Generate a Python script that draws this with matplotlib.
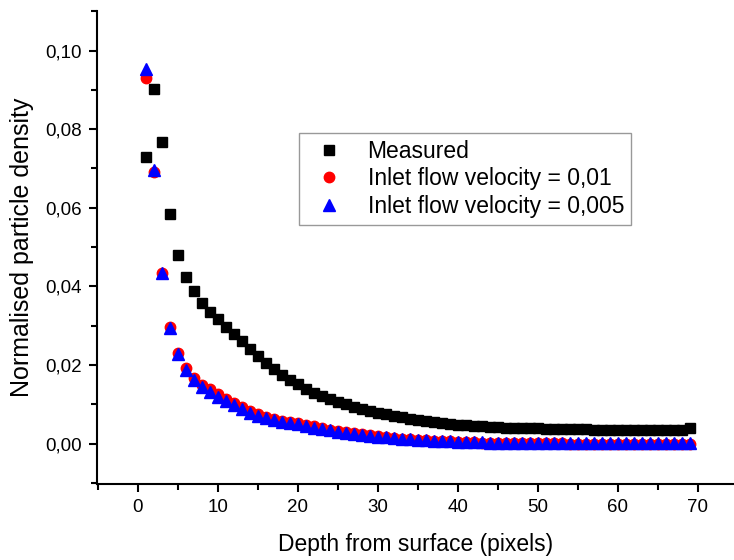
import matplotlib
matplotlib.use("Agg")
import matplotlib.pyplot as plt
import numpy as np
from matplotlib.ticker import MultipleLocator, FuncFormatter

plt.rcParams['font.family'] = ['Liberation Sans', 'DejaVu Sans']

# depth (pixels)
depth = np.arange(1, 70)

# measured profile
measured = [0.0730, 0.0903, 0.0767, 0.0584, 0.0479, 0.0424, 0.0388, 0.0359, 0.0336, 0.0316,
            0.0298, 0.0279, 0.0260, 0.0240, 0.0222, 0.0205, 0.0189, 0.0175, 0.0163, 0.0151,
            0.0140, 0.0130, 0.0121, 0.0113, 0.0106, 0.0100, 0.0094, 0.0089, 0.0084, 0.0079,
            0.0075, 0.0071, 0.0067, 0.0063, 0.0060, 0.0057, 0.0055, 0.0052, 0.0050, 0.0048,
            0.0047, 0.0045, 0.0044, 0.0043, 0.0042, 0.0041, 0.0040, 0.0040, 0.0039, 0.0039,
            0.0038, 0.0038, 0.0037, 0.0037, 0.0037, 0.0037, 0.0036, 0.0036, 0.0036, 0.0036,
            0.0036, 0.0036, 0.0036, 0.0036, 0.0036, 0.0036, 0.0036, 0.0036, 0.0039]

# simulation, inlet flow velocity = 0,01
sim_01 = [0.0931, 0.0690, 0.0435, 0.0297, 0.0231, 0.0192, 0.0167, 0.0150, 0.0138, 0.0126,
          0.0115, 0.0104, 0.0094, 0.0084, 0.0076, 0.0069, 0.0064, 0.0059, 0.0055, 0.0052,
          0.0048, 0.0044, 0.0040, 0.0036, 0.0033, 0.0030, 0.0027, 0.0024, 0.0021, 0.0019,
          0.0017, 0.0015, 0.0013, 0.0011, 0.0010, 0.0009, 0.0008, 0.0007, 0.0006, 0.0005,
          0.0004, 0.0004, 0.0003, 0.0003, 0.0002, 0.0002, 0.0001, 0.0001, 0.0001, 0.0001,
          0.0001, 0.0001, 0.0001, 0.0000, 0.0000, 0.0000, 0.0000, 0.0000, 0.0000, 0.0000,
          0.0000, 0.0000, 0.0000, 0.0000, 0.0000, 0.0000, 0.0000, 0.0000, 0.0000]

# simulation, inlet flow velocity = 0,005
sim_005 = [0.0954, 0.0697, 0.0434, 0.0294, 0.0228, 0.0188, 0.0162, 0.0145, 0.0132, 0.0120,
           0.0109, 0.0098, 0.0088, 0.0079, 0.0071, 0.0065, 0.0060, 0.0056, 0.0052, 0.0049,
           0.0045, 0.0041, 0.0037, 0.0034, 0.0031, 0.0028, 0.0025, 0.0022, 0.0020, 0.0018,
           0.0016, 0.0014, 0.0012, 0.0011, 0.0010, 0.0009, 0.0008, 0.0007, 0.0006, 0.0005,
           0.0005, 0.0004, 0.0004, 0.0003, 0.0003, 0.0003, 0.0002, 0.0002, 0.0002, 0.0002,
           0.0002, 0.0002, 0.0002, 0.0002, 0.0002, 0.0002, 0.0002, 0.0002, 0.0002, 0.0002,
           0.0002, 0.0002, 0.0002, 0.0002, 0.0002, 0.0002, 0.0002, 0.0002, 0.0002]

fig = plt.figure(figsize=(7.34, 5.60), dpi=100)
ax = fig.add_axes([0.132, 0.136, 0.868, 0.844])

ax.plot(depth, measured, 's', color='black', ms=7.3, label='Measured')
ax.plot(depth, sim_01, 'o', color='red', ms=7.5, label='Inlet flow velocity = 0,01')
ax.plot(depth, sim_005, '^', color='blue', ms=8, label='Inlet flow velocity = 0,005')

ax.set_xlim(-5.1, 74.5)
ax.set_ylim(-0.0102, 0.11)

ax.spines['top'].set_visible(False)
ax.spines['right'].set_visible(False)
for s in ['left', 'bottom']:
    ax.spines[s].set_linewidth(1.5)

ax.xaxis.set_major_locator(MultipleLocator(10))
ax.xaxis.set_minor_locator(MultipleLocator(5))
ax.yaxis.set_major_locator(MultipleLocator(0.02))
ax.yaxis.set_minor_locator(MultipleLocator(0.01))
ax.yaxis.set_major_formatter(FuncFormatter(lambda v, p: f"{v:.2f}".replace('.', ',')))
ax.tick_params(which='major', direction='out', length=6, width=1.5, labelsize=13.5, pad=5)
ax.tick_params(which='minor', direction='out', length=4, width=1.5)

ax.set_xlabel('Depth from surface (pixels)', fontsize=16.5, labelpad=12)
ax.set_ylabel('Normalised particle density', fontsize=18, labelpad=8)

leg = ax.legend(loc='upper left', bbox_to_anchor=(0.317, 0.743), borderaxespad=0,
                fontsize=16.5, frameon=True, fancybox=False, edgecolor='gray',
                handletextpad=0.7, handlelength=2.0, borderpad=0.3, labelspacing=0.2)
leg.get_frame().set_linewidth(1.0)

fig.savefig('out.png', dpi=100)
